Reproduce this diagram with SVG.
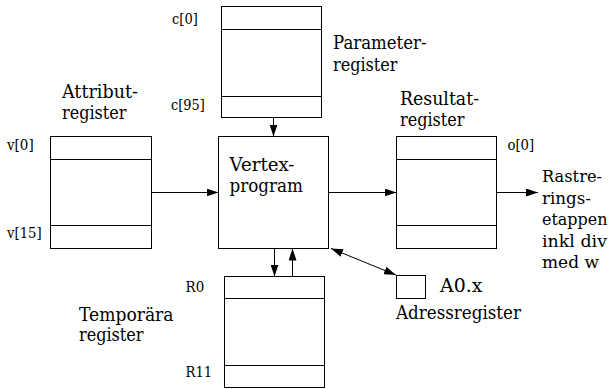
<svg xmlns="http://www.w3.org/2000/svg" width="612" height="389" viewBox="0 0 612 389">
<defs>
<style>
.box{fill:#fff;stroke:#000;stroke-width:1}
.ln{stroke:#000;stroke-width:1;fill:none}
text{font-family:'DejaVu Serif','Liberation Serif',serif;fill:#000}
.big{font-size:18.5px}
.ras{font-size:16.5px}
.sm{font-size:14px}
</style>
<marker id="ah" viewBox="0 0 12 8" refX="12" refY="4" markerWidth="12" markerHeight="8" markerUnits="userSpaceOnUse" orient="auto-start-reverse">
<path d="M0,0 L12,4 L0,8 z" fill="#000"/>
</marker>
</defs>
<rect width="612" height="389" fill="#fff"/>
<g id="param">
<rect class="box" x="221.5" y="6.5" width="100" height="111"/>
<line class="ln" x1="221.5" y1="29.5" x2="321.5" y2="29.5"/>
<line class="ln" x1="221.5" y1="96.5" x2="321.5" y2="96.5"/>
<text class="sm" x="172" y="23.5" textLength="25.8" lengthAdjust="spacingAndGlyphs">c[0]</text>
<text class="sm" x="171" y="110" textLength="33.8" lengthAdjust="spacingAndGlyphs">c[95]</text>
<text class="big" x="333" y="49" textLength="93.5" lengthAdjust="spacingAndGlyphs">Parameter-</text>
<text class="big" x="333" y="70.5" textLength="64.5" lengthAdjust="spacingAndGlyphs">register</text>
</g>
<g id="attrib">
<rect class="box" x="50.5" y="136.5" width="101" height="112"/>
<line class="ln" x1="50.5" y1="159.5" x2="151.5" y2="159.5"/>
<line class="ln" x1="50.5" y1="225.5" x2="151.5" y2="225.5"/>
<text class="sm" x="7" y="150" textLength="26.7" lengthAdjust="spacingAndGlyphs">v[0]</text>
<text class="sm" x="7" y="237.5" textLength="34.7" lengthAdjust="spacingAndGlyphs">v[15]</text>
<text class="big" x="62" y="97.5" textLength="76" lengthAdjust="spacingAndGlyphs">Attribut-</text>
<text class="big" x="62" y="119" textLength="64.5" lengthAdjust="spacingAndGlyphs">register</text>
</g>
<g id="vertex">
<rect class="box" x="218.5" y="136.5" width="110" height="112"/>
<text class="big" x="229.5" y="170.5" textLength="65" lengthAdjust="spacingAndGlyphs">Vertex-</text>
<text class="big" x="229.5" y="191.5" textLength="73.5" lengthAdjust="spacingAndGlyphs">program</text>
</g>
<g id="result">
<rect class="box" x="396.5" y="136.5" width="100" height="112"/>
<line class="ln" x1="396.5" y1="159.5" x2="496.5" y2="159.5"/>
<line class="ln" x1="396.5" y1="225.5" x2="496.5" y2="225.5"/>
<text class="sm" x="507.5" y="150" textLength="26.7" lengthAdjust="spacingAndGlyphs">o[0]</text>
<text class="big" x="400" y="104.5" textLength="79" lengthAdjust="spacingAndGlyphs">Resultat-</text>
<text class="big" x="400" y="126" textLength="64.5" lengthAdjust="spacingAndGlyphs">register</text>
</g>
<g id="raster">
<text class="ras" x="542" y="182" textLength="60" lengthAdjust="spacingAndGlyphs">Rastre-</text>
<text class="ras" x="542" y="203.5" textLength="49" lengthAdjust="spacingAndGlyphs">rings-</text>
<text class="ras" x="542" y="225" textLength="65.5" lengthAdjust="spacingAndGlyphs">etappen</text>
<text class="ras" x="542" y="246.5" textLength="65" lengthAdjust="spacingAndGlyphs">inkl div</text>
<text class="ras" x="542" y="268" textLength="57" lengthAdjust="spacingAndGlyphs">med w</text>
</g>
<g id="temp">
<rect class="box" x="224.5" y="276.5" width="100" height="111"/>
<line class="ln" x1="224.5" y1="298.5" x2="324.5" y2="298.5"/>
<line class="ln" x1="224.5" y1="365.5" x2="324.5" y2="365.5"/>
<text class="sm" x="185.5" y="291.5" textLength="18.7" lengthAdjust="spacingAndGlyphs">R0</text>
<text class="sm" x="185.5" y="376.5" textLength="26.7" lengthAdjust="spacingAndGlyphs">R11</text>
<text class="big" x="79" y="320.5" textLength="94.5" lengthAdjust="spacingAndGlyphs">Temporära</text>
<text class="big" x="79" y="341" textLength="64.5" lengthAdjust="spacingAndGlyphs">register</text>
</g>
<g id="addr">
<rect class="box" x="396.5" y="275.5" width="29" height="23"/>
<text class="big" x="440" y="291.5" textLength="42.4" lengthAdjust="spacingAndGlyphs">A0.x</text>
<text class="big" x="396" y="319" textLength="125" lengthAdjust="spacingAndGlyphs">Adressregister</text>
</g>
<g id="connectors">
<line class="ln" x1="151.5" y1="192.5" x2="218.5" y2="192.5" marker-end="url(#ah)"/>
<line class="ln" x1="328.5" y1="192.5" x2="396.5" y2="192.5" marker-end="url(#ah)"/>
<line class="ln" x1="496.5" y1="192.5" x2="538" y2="192.5" marker-end="url(#ah)"/>
<line class="ln" x1="273.5" y1="117.5" x2="273.5" y2="136.5" marker-end="url(#ah)"/>
<line class="ln" x1="274.5" y1="248.5" x2="274.5" y2="276.5" marker-end="url(#ah)"/>
<line class="ln" x1="292.5" y1="276.5" x2="292.5" y2="248.5" marker-end="url(#ah)"/>
<line class="ln" x1="331" y1="248.5" x2="396" y2="275" marker-start="url(#ah)" marker-end="url(#ah)"/>
</g>
</svg>
